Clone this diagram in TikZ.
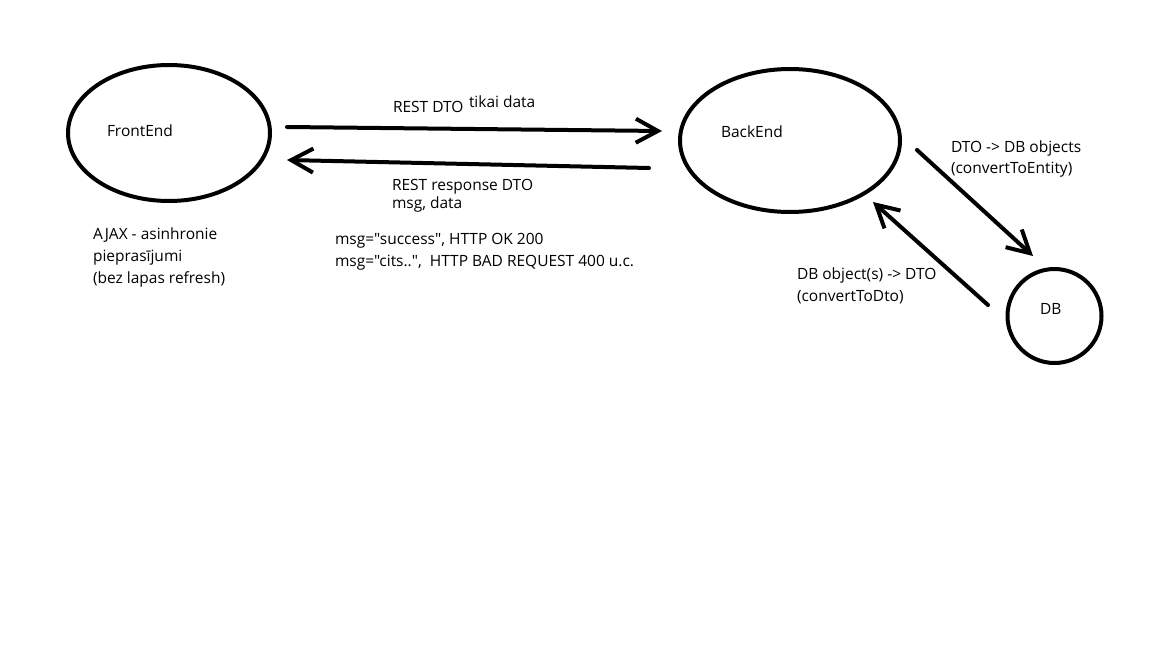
\documentclass[tikz,border=0pt]{standalone}
\usepackage{fontspec}
\setmainfont{Open Sans}[Ligatures=TeXOff]
\usetikzlibrary{shapes.geometric,arrows.meta,calc}

\tikzset{
  txt/.style={anchor=base west, align=left, inner sep=0pt, font=\fontsize{15.5}{22}\selectfont},
  flow/.style={-{Straight Barb[length=22pt,width=24pt]}, line cap=round}
}

\begin{document}
\begin{tikzpicture}[x=1pt,y=-1pt,line width=4pt]
        \useasboundingbox (0,0) rectangle (1152,648);

        \begin{scope}[every node/.style={ellipse,draw,inner sep=0pt}]
          \node[minimum width=202pt,minimum height=136pt] (fe) at (169,133) {};
          \node[minimum width=220pt,minimum height=143pt] (be) at (790,140.5) {};
          \node[circle,minimum size=94pt] (db) at (1054.5,316) {};
        \end{scope}

        % labels (base = last line)
        \node[txt] (fename) at (105,136) {FrontEnd};
        \node[txt] (bename) at (719,137) {BackEnd};
        \node[txt] (dbname) at (1038,314) {DB};

        \node[txt] (req)   at (391,112) {REST DTO};
        \node[txt] (reqx)  at (467,107) {tikai data};
        \node[txt,font=\fontsize{15.5}{18}\selectfont] (resp) at (390,208) {REST response DTO\\msg, data};
        \node[txt] (codes) at (333,266) {msg="success", HTTP OK 200\\msg="cits..",\ \ HTTP BAD REQUEST 400 u.c.};
        \node[txt] (ajax)  at (91,283) {AJAX - asinhronie\\pieprasījumi\\(bez lapas refresh)};
        \node[txt,font=\fontsize{15.5}{21}\selectfont] (toent) at (949,173) {DTO -> DB objects\\(convertToEntity)};
        \node[txt] (todto) at (795,301) {DB object(s) -> DTO\\(convertToDto)};

        % arrows between the parts
        \draw[flow] ($(fe.east)+(15,-6)$) -- ($(be.west)+(-16,-9.5)$);
        \draw[flow] ($(be.west)+(-29,27.5)$) -- ($(fe.east)+(15,27)$);
        \draw[flow] ($(be.east)+(15,9.5)$) -- ($(db.north)+(-21.5,-11)$);
        \draw[flow] ($(db.west)+(-17.5,-11)$) -- ($(be.south)+(83,-12)$);

      \end{tikzpicture}
\end{document}
